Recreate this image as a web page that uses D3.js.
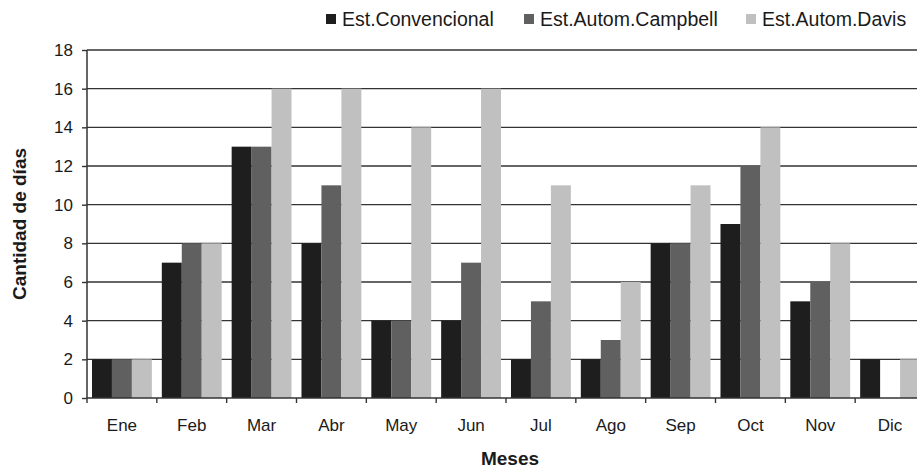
<!DOCTYPE html>
<html><head><meta charset="utf-8">
<script src="https://cdn.jsdelivr.net/npm/d3@7"></script>
<style>body{margin:0;background:#fff}svg{display:block;font-family:"Liberation Sans",Arial,sans-serif}</style>
</head><body>
<svg id="c" width="917" height="468"></svg>
<script>
const months = ["Ene","Feb","Mar","Abr","May","Jun","Jul","Ago","Sep","Oct","Nov","Dic"];
const seriesNames = ["Est.Convencional","Est.Autom.Campbell","Est.Autom.Davis"];
const convencional = [2,7,13,8,4,4,2,2,8,9,5,2];
const campbell     = [2,8,13,11,4,7,5,3,8,12,6,0];
const davis        = [2,8,16,16,14,16,11,6,11,14,8,2];
const yTicks = [0,2,4,6,8,10,12,14,16,18];
const colors = ["#1e1e1e","#606060","#c0c0c0"];

const svg = d3.select("#c");
const pL = 87, pR = 925, pT = 50, pB = 398;
const x = d3.scaleBand().domain(months).range([pL, pR]).paddingInner(0).paddingOuter(0);
const x1 = d3.scaleBand().domain(seriesNames).range([0, x.bandwidth()]).paddingOuter(0.25).paddingInner(0);
const y = d3.scaleLinear().domain([0,18]).range([pB, pT]);
const allSeries = [convencional, campbell, davis];
const fontF = "Liberation Sans, Arial, sans-serif";

// grid
svg.append("g").selectAll("line").data(yTicks.filter(d=>d>0)).join("line")
  .attr("x1", pL).attr("x2", pR).attr("y1", d=>y(d)).attr("y2", d=>y(d))
  .attr("stroke","#333").attr("stroke-width",1.4);

// bars
const g = svg.append("g");
months.forEach((m,i)=>{
  allSeries.forEach((s,j)=>{
    if (s[i] <= 0) return;
    g.append("rect").attr("x", x(m)+x1(seriesNames[j])).attr("width", x1.bandwidth())
      .attr("y", y(s[i])).attr("height", y(0)-y(s[i])).attr("fill", colors[j]);
  });
});

// y axis
const ya = svg.append("g").attr("transform",`translate(${pL},0)`)
  .call(d3.axisLeft(y).tickValues(yTicks).tickSize(5).tickPadding(9).tickFormat(d3.format("d")));
ya.select(".domain").attr("stroke","#333").attr("stroke-width",1.5).attr("d",`M0,${pT}V${pB}`);
ya.selectAll(".tick line").attr("stroke","#333").attr("stroke-width",1.4);
ya.selectAll("text").attr("font-size",17).attr("fill","#1a1a1a").attr("font-family",fontF);

// x axis
const xa = svg.append("g").attr("transform",`translate(0,${pB})`)
  .call(d3.axisBottom(x).tickSize(0).tickPadding(21));
xa.select(".domain").attr("stroke","#333").attr("stroke-width",1.5).attr("d",`M${pL},0H${pR}`);
xa.selectAll("text").attr("font-size",17).attr("fill","#1a1a1a").attr("font-family",fontF);
// category boundary ticks
svg.append("g").selectAll("line").data(months).join("line")
  .attr("x1", d=>x(d)).attr("x2", d=>x(d)).attr("y1", pB).attr("y2", pB+5)
  .attr("stroke","#333").attr("stroke-width",1.4);

// axis titles
svg.append("text").attr("transform",`translate(26,${(pT+pB)/2}) rotate(-90)`)
  .attr("text-anchor","middle").attr("font-size",19).attr("font-weight","bold").attr("fill","#1a1a1a")
  .text("Cantidad de días");
svg.append("text").attr("x",510).attr("y",465).attr("text-anchor","middle")
  .attr("font-size",19).attr("font-weight","bold").attr("fill","#1a1a1a").text("Meses");

// legend
const legX = [326, 524, 746];
const lg = svg.append("g");
seriesNames.forEach((n,j)=>{
  lg.append("rect").attr("x", legX[j]).attr("y", 14).attr("width", 10).attr("height", 10).attr("fill", colors[j]);
  lg.append("text").attr("x", legX[j]+16).attr("y", 26).attr("font-size",19.5).attr("fill","#1a1a1a").text(n);
});
</script>
</body></html>
